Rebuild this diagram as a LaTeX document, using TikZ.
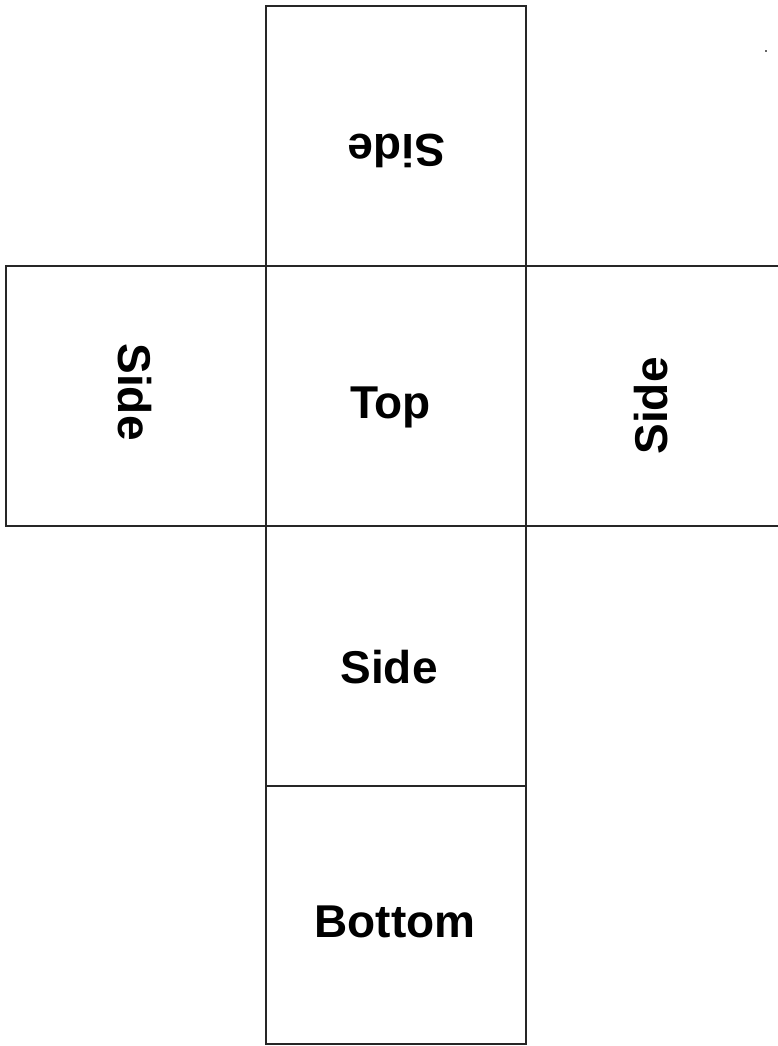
\documentclass[tikz,border=0pt]{standalone}
\usepackage{fontspec}
\setmainfont{Liberation Sans}
\begin{document}
\begin{tikzpicture}[x=1pt,y=1pt,
  face/.style={draw=black!85,line width=1.6pt},
  lbl/.style={inner sep=0pt,outer sep=0pt,anchor=base west,font=\fontsize{46}{55}\selectfont\bfseries}]
\useasboundingbox (0,0) rectangle (778,-1046);
% faces
\draw[face] (266,-6) rectangle (526,-266);
\draw[face] (6,-266) rectangle (266,-526);
\draw[face] (266,-266) rectangle (526,-526);
\draw[face] (266,-526) rectangle (526,-786);
\draw[face] (266,-786) rectangle (526,-1044);
\draw[face] (526,-266) -- (779,-266);
\draw[face] (526,-526) -- (779,-526);
% speck
\fill[black!60] (765,-50) rectangle (767,-52);
% labels
\node[lbl,rotate=180] (sidetop) at (445,-135) {Side};
\node[lbl] (top) at (350,-418) {Top};
\node[lbl] (sidemid) at (340.5,-683) {Side};
\node[lbl] (bottom) at (314.5,-937) {Bottom};
\node[lbl,rotate=-90] (sideleft) at (118,-343.5) {Side};
\node[lbl,rotate=90] (sideright) at (667,-454.5) {Side};
\end{tikzpicture}
\end{document}
